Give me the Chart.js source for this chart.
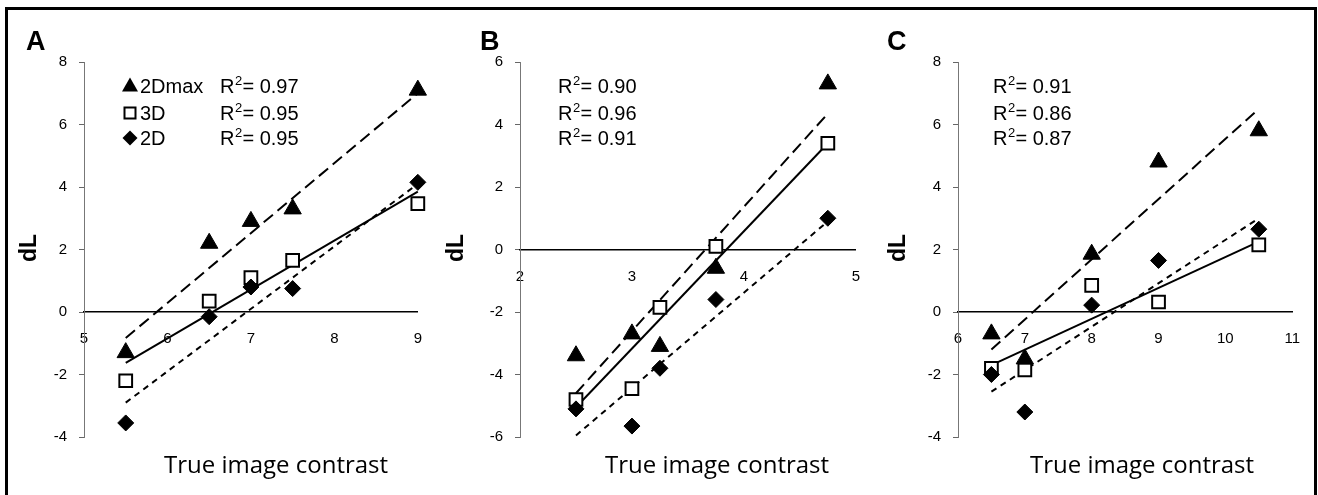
<!DOCTYPE html>
<html>
<head>
<meta charset="utf-8">
<script src="https://cdn.jsdelivr.net/npm/chart.js@4.4.0/dist/chart.umd.min.js"></script>
<style>
body { margin: 0; background: #fff; width: 1318px; height: 495px; overflow: hidden; position: relative; }
#frame { position: absolute; left: 5px; top: 7px; width: 1306px; height: 600px; border: 3px solid #000; border-bottom: none; }
.panel { position: absolute; top: 0; }
</style>
</head>
<body>
<div id="frame"></div>
<canvas id="chartA" class="panel" style="left:0px" width="440" height="495"></canvas>
<canvas id="chartB" class="panel" style="left:440px" width="438" height="495"></canvas>
<canvas id="chartC" class="panel" style="left:878px" width="440" height="495"></canvas>
<script>
// panel A
const xA = [5.5, 6.5, 7, 7.5, 9];
const a2Dmax = [-1.3, 2.2, 2.9, 3.3, 7.1];
const a3D = [-2.2, 0.35, 1.1, 1.65, 3.47];
const a2D = [-3.55, -0.15, 0.8, 0.75, 4.15];
const fitXA = [5.5, 9];
const fitA2Dmax = [-0.83, 7.0];
const fitA3D = [-1.63, 3.85];
const fitA2D = [-2.9, 4.1];
const r2A = ['0.97', '0.95', '0.95'];

// panel B
const xB = [2.5, 3, 3.25, 3.75, 4.75];
const b2Dmax = [-3.4, -2.7, -3.1, -0.6, 5.3];
const b3D = [-4.8, -4.45, -1.85, 0.1, 3.4];
const b2D = [-5.1, -5.65, -3.8, -1.6, 1.0];
const fitXB = [2.5, 4.75];
const fitB2Dmax = [-4.6, 4.35];
const fitB3D = [-5.05, 3.4];
const fitB2D = [-5.95, 0.9];
const r2B = ['0.90', '0.96', '0.91'];

// panel C
const xC = [6.5, 7, 8, 9, 10.5];
const c2Dmax = [-0.7, -1.5, 1.85, 4.8, 5.8];
const c3D = [-1.8, -1.85, 0.85, 0.32, 2.15];
const c2D = [-2.0, -3.2, 0.22, 1.65, 2.65];
const fitXC = [6.5, 10.5];
const fitC2Dmax = [-1.2, 6.5];
const fitC3D = [-1.7, 2.25];
const fitC2D = [-2.55, 3.0];
const r2C = ['0.91', '0.86', '0.87'];

const seriesNames = ['2Dmax', '3D', '2D'];

const ARIAL = '"Liberation Sans", Arial, sans-serif';
const tickFont = {family: 'Liberation Sans', size: 15};

function pts(xs, ys) {
    return xs.map((x, i) => ({x: x, y: ys[i]}));
}

function drawMarker(ctx, kind, x, y) {
    ctx.save();
    ctx.fillStyle = '#000';
    ctx.strokeStyle = '#000';
    ctx.beginPath();
    if (kind === 0) {
        ctx.moveTo(x, y - 8.5);
        ctx.lineTo(x + 8, y + 5.5);
        ctx.lineTo(x - 8, y + 5.5);
        ctx.closePath();
        ctx.fill();
    } else if (kind === 1) {
        ctx.lineWidth = 2;
        ctx.fillStyle = '#fff';
        ctx.rect(x - 5.5, y - 5.5, 11, 11);
        ctx.fill();
        ctx.stroke();
    } else {
        ctx.moveTo(x, y - 7.5);
        ctx.lineTo(x + 7.5, y);
        ctx.lineTo(x, y + 7.5);
        ctx.lineTo(x - 7.5, y);
        ctx.closePath();
        ctx.fill();
    }
    ctx.restore();
}

const panelText = {
    id: 'panelText',
    afterDraw(chart, args, opts) {
        const ctx = chart.ctx;
        ctx.save();
        ctx.fillStyle = '#000';
        ctx.textBaseline = 'alphabetic';

        ctx.font = 'bold 27px ' + ARIAL;
        ctx.textAlign = 'left';
        ctx.fillText(opts.letter, opts.letterX, 50);

        ctx.save();
        ctx.translate(opts.yTitleX, 248);
        ctx.rotate(-Math.PI / 2);
        ctx.font = 'bold 23px ' + ARIAL;
        ctx.textAlign = 'center';
        ctx.textBaseline = 'middle';
        ctx.fillText('dL', 0, 0);
        ctx.restore();

        ctx.font = '24px "Open Sans", sans-serif';
        ctx.textAlign = 'center';
        ctx.fillText('True image contrast', opts.xTitleX, 473);

        ctx.textAlign = 'left';
        const baselines = [93, 120, 145];
        opts.r2.forEach((val, i) => {
            const b = baselines[i];
            ctx.font = '20px ' + ARIAL;
            if (opts.showNames) {
                drawMarker(ctx, i, opts.markerX, b - 7);
                ctx.fillText(seriesNames[i], opts.markerX + 10, b);
            }
            ctx.fillText('R', opts.rX, b);
            const w = ctx.measureText('R').width;
            ctx.font = '13px ' + ARIAL;
            ctx.fillText('2', opts.rX + w + 0.5, b - 8);
            ctx.font = '20px ' + ARIAL;
            ctx.fillText('= ' + val, opts.rX + w + 8, b);
        });
        ctx.restore();
    }
};

function renderPanel(canvasId, xs, y2Dmax, y3D, y2D, fitX, f2Dmax, f3D, f2D, xMin, xMax, yMin, yMax, axisW, padRight, text) {
    const ctx = document.getElementById(canvasId);

    new Chart(ctx, {
        type: 'scatter',
        data: {
            datasets: [
                {label: '2Dmax', data: pts(xs, y2Dmax), pointStyle: 'triangle', pointRadius: 10,
                 backgroundColor: '#000', borderColor: '#000', borderWidth: 1, clip: false},
                {label: '2D', data: pts(xs, y2D), pointStyle: 'rectRot', pointRadius: 8,
                 backgroundColor: '#000', borderColor: '#000', borderWidth: 1, clip: false},
                {label: '3D', data: pts(xs, y3D), pointStyle: 'rect', pointRadius: 9,
                 backgroundColor: '#fff', borderColor: '#000', borderWidth: 2, clip: false},
                {label: 'fit 2Dmax', data: pts(fitX, f2Dmax), showLine: true, pointRadius: 0,
                 borderColor: '#000', borderWidth: 2, borderDash: [12, 6], clip: false},
                {label: 'fit 3D', data: pts(fitX, f3D), showLine: true, pointRadius: 0,
                 borderColor: '#000', borderWidth: 2, clip: false},
                {label: 'fit 2D', data: pts(fitX, f2D), showLine: true, pointRadius: 0,
                 borderColor: '#000', borderWidth: 2, borderDash: [6, 5], clip: false}
            ]
        },
        options: {
            responsive: false,
            animation: false,
            layout: {padding: {left: 0, top: 62, right: padRight, bottom: 58}},
            plugins: {
                legend: {display: false},
                tooltip: {enabled: false},
                panelText: text
            },
            scales: {
                x: {
                    type: 'linear',
                    position: {y: 0},
                    min: xMin,
                    max: xMax,
                    ticks: {stepSize: 1, padding: 18, color: '#000', font: tickFont},
                    grid: {drawOnChartArea: false, drawTicks: false},
                    border: {color: '#000', width: 1.5}
                },
                y: {
                    type: 'linear',
                    min: yMin,
                    max: yMax,
                    afterFit: (scale) => { scale.width = axisW; },
                    ticks: {stepSize: 2, padding: 12, color: '#000', font: tickFont},
                    grid: {drawOnChartArea: false, drawTicks: true, tickLength: 5, color: '#666'},
                    border: {color: '#777', width: 1}
                }
            }
        },
        plugins: [panelText]
    });
}

renderPanel('chartA', xA, a2Dmax, a3D, a2D, fitXA, fitA2Dmax, fitA3D, fitA2D, 5, 9, -4, 8, 84, 21,
    {letter: 'A', letterX: 26, yTitleX: 30, xTitleX: 276, r2: r2A, showNames: true, markerX: 130, rX: 220});
renderPanel('chartB', xB, b2Dmax, b3D, b2D, fitXB, fitB2Dmax, fitB3D, fitB2D, 2, 5, -6, 6, 80, 10,
    {letter: 'B', letterX: 40, yTitleX: 17, xTitleX: 277, r2: r2B, showNames: false, rX: 118});
renderPanel('chartC', xC, c2Dmax, c3D, c2D, fitXC, fitC2Dmax, fitC3D, fitC2D, 6, 11, -4, 8, 80, 24,
    {letter: 'C', letterX: 9, yTitleX: 21, xTitleX: 264, r2: r2C, showNames: false, rX: 115});
</script>
</body>
</html>
